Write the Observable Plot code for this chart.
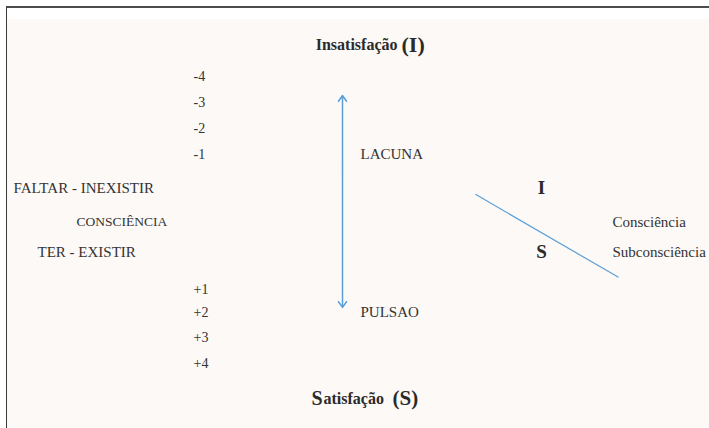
<!DOCTYPE html>
<html>
<head>
<meta charset="utf-8">
<script src="https://cdn.jsdelivr.net/npm/d3@7"></script>
<script src="https://cdn.jsdelivr.net/npm/@observablehq/plot@0.6"></script>
<style>
  html, body { margin: 0; padding: 0; background: #ffffff; }
  #wrap { position: relative; width: 709px; height: 428px; background: #ffffff; overflow: hidden; }
  #frame { position: absolute; left: 6px; top: 6px; right: 0; bottom: 0;
           border-top: 2px solid #4d4d4d; border-left: 1px solid #3a3a3a; }
  #paper { position: absolute; left: 7px; top: 19px; right: 0; bottom: 0; background: #fcf9f6; }
  #chart { position: absolute; left: 0; top: 0; }
  #chart svg { background: transparent; }
  #chart svg text { font-family: "Liberation Serif", "Times New Roman", "DejaVu Serif", serif !important; }
</style>
</head>
<body>
<div id="wrap">
  <div id="frame"></div>
  <div id="paper"></div>
  <div id="chart"></div>
</div>
<script>
// ---- data ----
const levelLabels = ["-4", "-3", "-2", "-1", "+1", "+2", "+3", "+4"];
const levelValues = [-4, -3, -2, -1, 1, 2, 3, 4];

const conceptLabels = ["FALTAR - INEXISTIR", "CONSCIÊNCIA", "TER - EXISTIR"];
const conceptLevels = [-0.5, 0, 0.45];

const poleLabels = ["LACUNA", "PULSAO"];
const poleLevels = [-1, 2];

const stateLabels = ["I", "S"];
const stateLevels = [-0.5, 0.45];

const mindLabels = ["Consciência", "Subconsciência"];
const mindLevels = [0, 0.45];

const titleTop = { word: "Insatisfação", symbol: "(I)", level: -5.23 };
const titleBottom = { initial: "S", rest: "atisfação", symbol: "(S)", level: 5.38 };

// arrow between the poles (levels), and the dividing line (levels)
const arrowLevels = { top: -3.27, mid: -0.8, bottom: 1.78 };
const dividerLevels = { start: -0.41, end: 0.82 };

// ---- build ----
const zip = (labels, levels) => labels.map((label, i) => ({ label, level: levels[i] }));
const serif = "'Liberation Serif', 'Times New Roman', serif";
const ink = "#333333";
const blue = "#5b9fd8";

const plot = Plot.plot({
  width: 709,
  height: 428,
  margin: 0,
  style: { background: "transparent", fontFamily: serif },
  x: { type: "linear", domain: [0, 709], range: [0, 709], axis: null },
  y: { type: "linear", domain: [-4, -1, 1, 2, 4], range: [76, 154, 289, 312, 363], axis: null },
  marks: [
    // level scale
    Plot.text(zip(levelLabels, levelValues), {
      x: () => 193, y: "level", text: "label", textAnchor: "start",
      fontSize: 14, fill: ink
    }),
    // concepts on the left
    Plot.text(zip(conceptLabels, conceptLevels), {
      x: (d, i) => [13, 76, 37][i], y: "level", text: "label", textAnchor: "start",
      fontSize: (d, i) => (i === 1 ? 13.5 : 15), fill: ink
    }),
    // double arrow
    Plot.arrow([{ from: arrowLevels.mid, to: arrowLevels.top }, { from: arrowLevels.mid, to: arrowLevels.bottom }], {
      x1: () => 342, x2: () => 342, y1: "from", y2: "to",
      stroke: blue, strokeWidth: 1.5, headLength: 7, headAngle: 70
    }),
    // poles
    Plot.text(zip(poleLabels, poleLevels), {
      x: () => 360, y: "level", text: "label", textAnchor: "start",
      fontSize: 15, fill: ink
    }),
    // dividing line
    Plot.link([dividerLevels], {
      x1: () => 475, x2: () => 618, y1: "start", y2: "end",
      stroke: blue, strokeWidth: 1.2
    }),
    // I / S
    Plot.text(zip(stateLabels, stateLevels), {
      x: () => 541, y: "level", text: "label", textAnchor: "middle",
      fontSize: 19, fontWeight: "bold", fill: "#2a2a2a"
    }),
    // Consciência / Subconsciência
    Plot.text(zip(mindLabels, mindLevels), {
      x: () => 612, y: "level", text: "label", textAnchor: "start",
      fontSize: 15, fill: ink
    }),
    // top title
    Plot.text([titleTop], {
      x: () => 397, y: "level", text: "word", textAnchor: "end",
      fontSize: 16, fontWeight: "bold", fill: "#2a2a2a"
    }),
    Plot.text([titleTop], {
      x: () => 401, y: "level", text: "symbol", textAnchor: "start",
      fontSize: 22, fontWeight: "bold", fill: "#2a2a2a"
    }),
    // bottom title
    Plot.text([titleBottom], {
      x: () => 311, y: "level", text: "initial", textAnchor: "start",
      fontSize: 20, fontWeight: "bold", fill: "#2a2a2a"
    }),
    Plot.text([titleBottom], {
      x: () => 323, y: "level", text: "rest", textAnchor: "start",
      fontSize: 16, fontWeight: "bold", fill: "#2a2a2a"
    }),
    Plot.text([titleBottom], {
      x: () => 392, y: "level", text: "symbol", textAnchor: "start",
      fontSize: 21, fontWeight: "bold", fill: "#2a2a2a"
    })
  ]
});
document.getElementById("chart").appendChild(plot);
</script>
</body>
</html>
